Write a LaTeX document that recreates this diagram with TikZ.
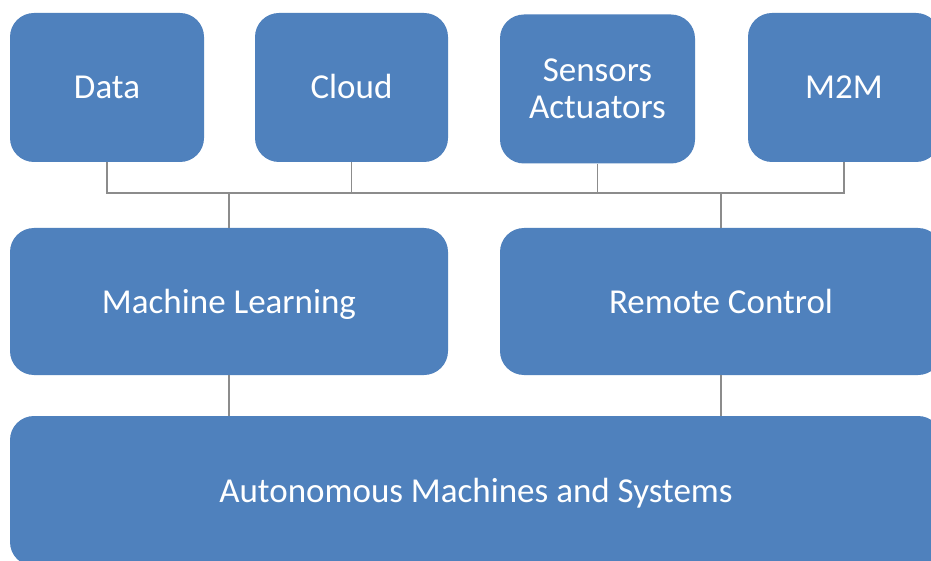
\documentclass[tikz,border=0pt]{standalone}
\usepackage{fontspec}
\setmainfont{Carlito}
\definecolor{boxblue}{HTML}{4F81BD}
\definecolor{linegray}{HTML}{8C8C8C}
\begin{document}
\begin{tikzpicture}[x=1pt,y=-1pt,
  blk/.style={draw=none,fill=boxblue,rounded corners=24pt,text=white,align=center,
    inner sep=0pt,font=\fontsize{35}{37}\selectfont},
  oneline/.style={text height=23pt,text depth=0pt},
  conn/.style={draw=linegray,line width=1.5pt}]
\useasboundingbox (0,0) rectangle (931,561);
\clip (0,0) rectangle (931,561);
\fill[white] (0,0) rectangle (931,561);
\node[blk,oneline,minimum width=194pt,minimum height=149pt] (data) at (107,87.5) {Data};
\node[blk,oneline,minimum width=193pt,minimum height=149pt] (cloud) at (351.5,87.5) {Cloud};
\node[blk,minimum width=195pt,minimum height=149pt] (sens) at (597.5,89) {Sensors\\Actuators};
\node[blk,oneline,minimum width=192pt,minimum height=149pt] (m2m) at (844,87.5) {M2M};
\node[blk,oneline,minimum width=438pt,minimum height=147pt] (ml) at (229,301.5) {Machine Learning};
\node[blk,oneline,minimum width=442pt,minimum height=147pt] (rc) at (721,301.5) {Remote Control};
\node[blk,oneline,minimum width=932pt,minimum height=150pt] (ams) at (476,491) {Autonomous Machines and Systems};
\coordinate (bus) at (0,193);
\draw[conn] (data.south) -- (data.south |- bus) -- (m2m.south |- bus) -- (m2m.south);
\draw[conn] (cloud.south) -- (cloud.south |- bus);
\draw[conn] (sens.south) -- (sens.south |- bus);
\draw[conn] (ml.north |- bus) -- (ml.north);
\draw[conn] (rc.north |- bus) -- (rc.north);
\draw[conn] (ml.south) -- (ml.south |- ams.north);
\draw[conn] (rc.south) -- (rc.south |- ams.north);
\end{tikzpicture}
\end{document}
